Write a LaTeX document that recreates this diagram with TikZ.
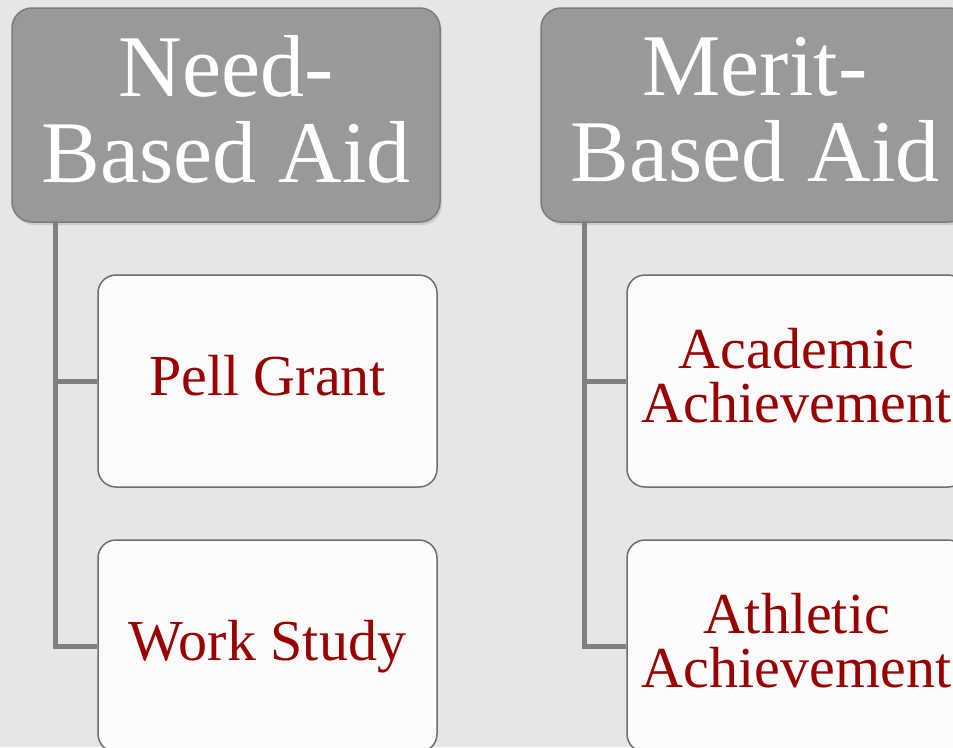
\documentclass[tikz,border=0pt]{standalone}
\usepackage{fontspec}
\setmainfont{Liberation Serif}
\usetikzlibrary{calc,shadows}
\definecolor{pagegray}{HTML}{E6E6E6}
\definecolor{headgray}{HTML}{999999}
\definecolor{headedge}{HTML}{7C7C7C}
\definecolor{linkgray}{HTML}{7F7F7F}
\definecolor{boxedge}{HTML}{6E6E6E}
\definecolor{boxfill}{HTML}{FCFCFC}
\definecolor{aidred}{HTML}{990000}
\tikzset{
  aidhead/.style={draw=headedge, fill=headgray, line width=1.5pt,
    rounded corners=20pt, minimum width=428pt, minimum height=214pt,
    inner sep=0pt, text=white, align=center, text depth=12pt,
    font=\fontsize{88}{86}\selectfont,
    drop shadow={opacity=0.25, shadow xshift=2pt, shadow yshift=-3pt}},
  aidbox/.style={draw=boxedge, fill=boxfill, line width=1.5pt,
    rounded corners=18pt, minimum width=339pt, minimum height=212pt,
    inner sep=0pt, text=aidred, align=center, text depth=12pt,
    font=\fontsize{58}{54}\selectfont},
  aidlink/.style={draw=linkgray, line width=5pt, line cap=butt}
}

\begin{document}
\begin{tikzpicture}[x=1pt, y=-1pt]
\def\shift{529}
\useasboundingbox (0,0) rectangle (953,747);
\clip (0,0) rectangle (953,747);
\fill[pagegray] (0,0) rectangle (953,747);
% headers
\node[aidhead] (need) at (226,115) {Need-\\Based Aid};
\node[aidhead] (merit) at (226+\shift,115) {Merit-\\Based Aid};
% kinds of aid
\node[aidbox] (pell) at (267.5,381) {Pell Grant};
\node[aidbox] (work) at (267.5,646) {Work Study};
\node[aidbox] (academic) at (267.5+\shift,381) {Academic\\Achievement};
\node[aidbox] (athletic) at (267.5+\shift,646) {Athletic\\Achievement};
% links
\draw[aidlink] ($(need.south west)+(44,0)$) |- (pell.west);
\draw[aidlink] ($(need.south west)+(44,0)$) |- (work.west);
\draw[aidlink] ($(merit.south west)+(44,0)$) |- (academic.west);
\draw[aidlink] ($(merit.south west)+(44,0)$) |- (athletic.west);
\end{tikzpicture}
\end{document}
